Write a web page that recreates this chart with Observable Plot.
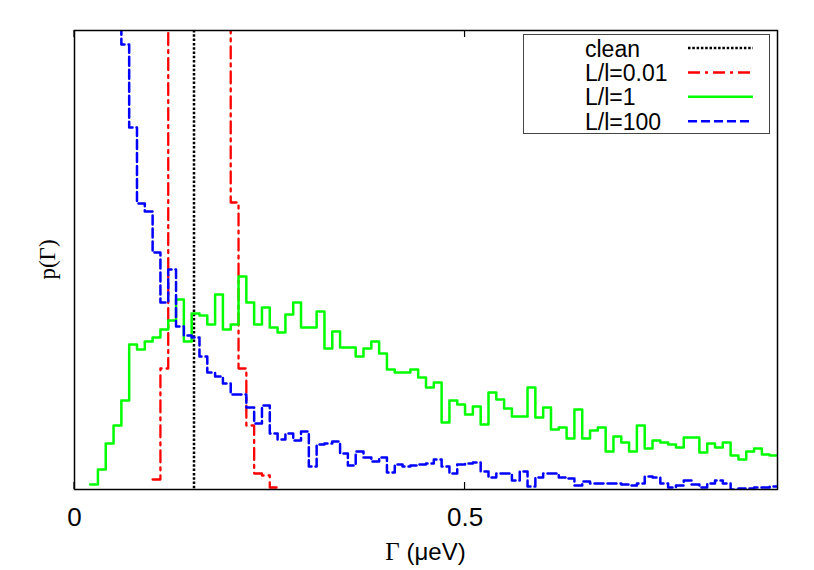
<!DOCTYPE html>
<html>
<head>
<meta charset="utf-8">
<script src="https://cdn.jsdelivr.net/npm/d3@7"></script>
<script src="https://cdn.jsdelivr.net/npm/@observablehq/plot@0.6"></script>
<style>
  body { margin: 0; background: #fff; }
  svg { display: block; }
</style>
</head>
<body>
<div id="chart"></div>
<script>
// ---- data (histogram bin heights, arbitrary units; bins of width 0.01 µeV) ----
const binWidth = 0.01;
const cleanGamma = 0.153;
const seriesNames = ["clean", "L/l=0.01", "L/l=1", "L/l=100"];
const seriesColors = ["#000000", "#ff0000", "#00ff00", "#0000ff"];
const seriesDash = ["2.5,1.8", "12,5,3,5", null, "9,4"];

const redStart = 0.10;  // L/l=0.01 (bins 0.12-0.19 run far above the frame)
const redValues = [1.0, 12.1, 90, 105, 115, 120, 118, 110, 95, 70, 28.7, 12.1, 6.4, 1.6, 1.4, 0.2];

const greenStart = 0.02; // L/l=1
const greenValues = [
  0.5, 2.0, 4.6, 6.4, 8.9, 14.5, 14.0, 14.8, 15.2, 16.0,
  16.9, 19.0, 14.8, 17.6, 17.4, 16.5, 19.5, 16.0, 16.5, 21.3,
  18.7, 16.5, 18.2, 16.2, 15.7, 17.5, 18.7, 16.2, 16.2, 17.8,
  14.1, 15.8, 14.2, 14.2, 13.3, 14.1, 14.8, 13.6, 12.0, 11.7,
  11.7, 12.0, 11.2, 10.2, 10.7, 6.7, 8.9, 8.5, 7.5, 8.3,
  6.5, 9.7, 9.0, 8.1, 7.3, 7.3, 10.2, 7.2, 8.2, 6.0,
  6.2, 5.1, 8.0, 5.1, 5.9, 6.2, 3.8, 5.3, 4.7, 3.8,
  6.4, 4.1, 4.9, 4.7, 4.5, 4.2, 5.2, 5.2, 3.7, 4.6,
  4.2, 4.7, 3.4, 3.0, 3.8, 4.1, 3.5, 3.4
];

const blueStart = 0.00; // L/l=100 (bins 0.00-0.05 run far above the frame)
const blueValues = [
  95, 80, 68, 60, 52, 48, 44.5, 36.2, 28.6, 27.8,
  23.7, 18.7, 22.0, 16.3, 15.4, 15.2, 13.3, 11.7, 11.3, 10.6,
  9.5, 9.5, 8.2, 6.6, 8.4, 5.6, 5.0, 5.6, 4.9, 5.8,
  2.3, 4.5, 4.6, 4.8, 3.6, 2.4, 3.8, 3.2, 2.8, 3.2,
  1.7, 2.5, 2.3, 2.4, 2.5, 2.6, 3.0, 2.3, 1.6, 2.5,
  2.6, 2.7, 1.8, 1.2, 1.6, 1.6, 0.9, 1.8, 0.3, 1.2,
  1.6, 1.6, 1.2, 1.1, 0.4, 0.8, 0.6, 0.6, 0.6, 0.6,
  0.5, 0.4, 0.6, 1.3, 1.2, 0.6, 0.2, 0.4, 0.9, 0.5,
  0.2, 0.6, 0.9, 0.6, 0.0, 0.1, 0.1, 0.2, 0.2, 0.3
];

const xTicks = [0, 0.5];
const xDomain = [0, 0.9];
const yDomain = [0, 45.9];
const xLabelSymbol = "Γ";
const xLabelUnit = " (μeV)";
const yLabel = "p(Γ)";

// bin edges -> step points
function steps(start, values, dropToZero) {
  const pts = values.map((v, i) => ({x: +(start + i * binWidth).toFixed(4), y: v}));
  const end = +(start + values.length * binWidth).toFixed(4);
  pts.push({x: end, y: dropToZero ? 0 : values[values.length - 1]});
  return pts;
}

const sans = "'Liberation Sans', Arial, Helvetica, sans-serif";
const serif = "'Liberation Serif', 'Times New Roman', serif";

const plot = Plot.plot({
  width: 814,
  height: 570,
  marginLeft: 74,
  marginRight: 37,
  marginTop: 30,
  marginBottom: 81,
  style: {fontFamily: sans, background: "white", color: "black"},
  x: {domain: xDomain},
  y: {domain: yDomain, axis: null},
  marks: [
    Plot.ruleX([cleanGamma], {stroke: seriesColors[0], strokeWidth: 2.5, strokeDasharray: seriesDash[0]}),
    Plot.line(steps(redStart, redValues, true), {x: "x", y: "y", curve: "step-after", stroke: seriesColors[1], strokeWidth: 2.3, strokeDasharray: seriesDash[1], clip: true}),
    Plot.line(steps(greenStart, greenValues, false), {x: "x", y: "y", curve: "step-after", stroke: seriesColors[2], strokeWidth: 2.5, clip: true}),
    Plot.line(steps(blueStart, blueValues, false), {x: "x", y: "y", curve: "step-after", stroke: seriesColors[3], strokeWidth: 2.5, strokeDasharray: seriesDash[3], clip: true}),
    Plot.frame({stroke: "black", strokeWidth: 1.5}),
    Plot.axisX({ticks: xTicks, tickSize: 0, tickPadding: 18, tickFormat: d => String(d), fontSize: 26, label: null})
  ]
});

document.getElementById("chart").appendChild(plot);

const svg = d3.select(plot);
const sx = plot.scale("x");
const sy = plot.scale("y");
const [yBottom, yTop] = sy.range;
const [xLeft, xRight] = sx.range;

// inward tick marks (bottom and mirrored top)
xTicks.forEach(t => {
  const px = sx.apply(t);
  svg.append("line").attr("x1", px).attr("x2", px).attr("y1", yBottom).attr("y2", yBottom - 7)
    .attr("stroke", "black").attr("stroke-width", 1.2);
  svg.append("line").attr("x1", px).attr("x2", px).attr("y1", yTop).attr("y2", yTop + 7)
    .attr("stroke", "black").attr("stroke-width", 1.2);
});

// x label
const xl = svg.append("text")
  .attr("x", (xLeft + xRight) / 2).attr("y", 560)
  .attr("text-anchor", "middle").attr("fill", "black");
xl.append("tspan").attr("font-family", serif).attr("font-size", 25).text(xLabelSymbol);
xl.append("tspan").attr("font-family", sans).attr("font-size", 24).text(xLabelUnit);

// y label
svg.append("text")
  .attr("transform", `translate(55,${(yTop + yBottom) / 2}) rotate(-90)`)
  .attr("text-anchor", "middle").attr("font-family", serif).attr("font-size", 23)
  .attr("fill", "black").text(yLabel);

// legend
const lg = svg.append("g");
lg.append("rect").attr("x", 523.5).attr("y", 34.5).attr("width", 246).attr("height", 99)
  .attr("fill", "none").attr("stroke", "#444").attr("stroke-width", 1);
seriesNames.forEach((name, i) => {
  const cy = 48 + i * 24.4;
  lg.append("text").attr("x", 585).attr("y", cy + 8.5).attr("text-anchor", "start")
    .attr("font-family", sans).attr("font-size", 23).attr("fill", "black").text(name);
  const ln = lg.append("line").attr("x1", 688).attr("x2", 753).attr("y1", cy).attr("y2", cy)
    .attr("stroke", seriesColors[i]).attr("stroke-width", i === 0 ? 2.5 : 2.5);
  if (seriesDash[i]) ln.attr("stroke-dasharray", seriesDash[i]);
});
</script>
</body>
</html>
